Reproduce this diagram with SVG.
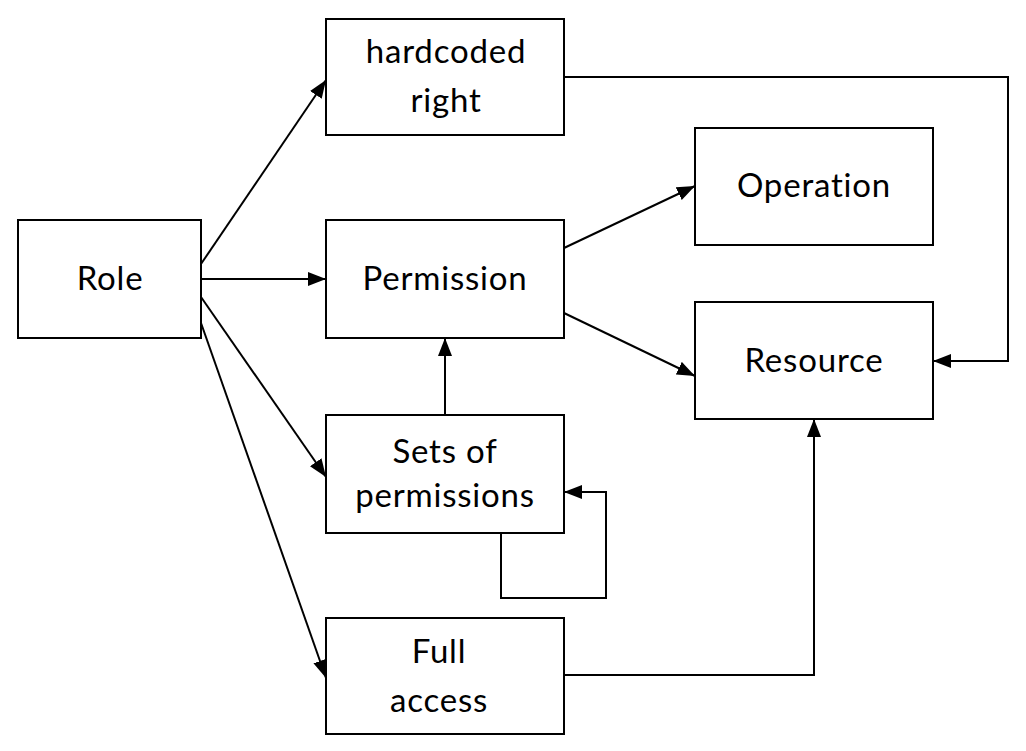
<svg xmlns="http://www.w3.org/2000/svg" width="1026" height="751" viewBox="0 0 1026 751">
<style>
.box{fill:#fff;stroke:#000;stroke-width:2}
.lbl{font-family:Lato,"Open Sans","Liberation Sans",sans-serif;font-size:33px;letter-spacing:0.8px;fill:#000;text-anchor:middle}
.c{fill:none;stroke:#000;stroke-width:2}
</style>
<defs>
<marker id="ah" viewBox="0 0 18 14" refX="18" refY="7" markerWidth="18" markerHeight="14" markerUnits="userSpaceOnUse" orient="auto">
<path d="M0,0 L18,7 L0,14 Z" fill="#000"/>
</marker>
</defs>
<rect width="1026" height="751" fill="#fff"/>
<g id="connectors">
<path class="c" d="M201,264 L326,80" marker-end="url(#ah)"/>
<path class="c" d="M201,279 L326,279" marker-end="url(#ah)"/>
<path class="c" d="M201,297 L326,477" marker-end="url(#ah)"/>
<path class="c" d="M201,323 L326,678" marker-end="url(#ah)"/>
<path class="c" d="M564,248 L695,186" marker-end="url(#ah)"/>
<path class="c" d="M564,313 L695,376" marker-end="url(#ah)"/>
<path class="c" d="M564,77 L1008,77 L1008,361 L933,361" marker-end="url(#ah)"/>
<path class="c" d="M445,415 L445,338" marker-end="url(#ah)"/>
<path class="c" d="M501,533 L501,598 L606,598 L606,492 L564,492" marker-end="url(#ah)"/>
<path class="c" d="M564,675 L814,675 L814,419" marker-end="url(#ah)"/>
</g>
<g id="role">
<rect class="box" x="18" y="220" width="183" height="118"/>
<text class="lbl" x="110" y="290">Role</text>
</g>
<g id="hardcoded">
<rect class="box" x="326" y="19" width="238" height="116"/>
<text class="lbl" x="446" y="63">hardcoded</text>
<text class="lbl" x="446" y="112">right</text>
</g>
<g id="permission">
<rect class="box" x="326" y="220" width="238" height="118"/>
<text class="lbl" x="445" y="290">Permission</text>
</g>
<g id="sets">
<rect class="box" x="326" y="415" width="238" height="118"/>
<text class="lbl" x="445" y="463">Sets of</text>
<text class="lbl" x="445" y="507">permissions</text>
</g>
<g id="full">
<rect class="box" x="326" y="618" width="238" height="116"/>
<text class="lbl" x="439" y="663">Full</text>
<text class="lbl" x="439" y="712">access</text>
</g>
<g id="operation">
<rect class="box" x="695" y="128" width="238" height="117"/>
<text class="lbl" x="814" y="197">Operation</text>
</g>
<g id="resource">
<rect class="box" x="695" y="302" width="238" height="117"/>
<text class="lbl" x="814" y="372">Resource</text>
</g>
</svg>
